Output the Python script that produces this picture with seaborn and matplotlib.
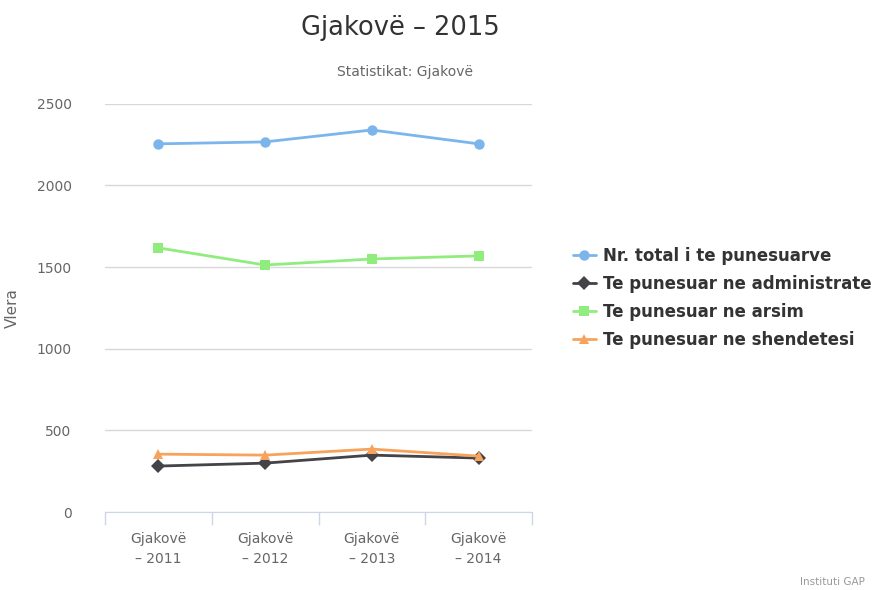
import pandas as pd
import matplotlib
matplotlib.use('Agg')
import matplotlib.pyplot as plt
import seaborn as sns

# datos
categorias = ['Gjakovë\n– 2011', 'Gjakovë\n– 2012', 'Gjakovë\n– 2013', 'Gjakovë\n– 2014']
series = ['Nr. total i te punesuarve', 'Te punesuar ne administrate',
          'Te punesuar ne arsim', 'Te punesuar ne shendetesi']
total = [2255, 2267, 2340, 2255]
administrate = [282, 300, 349, 331]
arsim = [1618, 1513, 1550, 1569]
shendetesi = [355, 349, 386, 343]

colores = ['#7cb5ec', '#434348', '#90ed7d', '#f7a35c']
marcadores = ['o', 'D', 's', '^']

valores = [total, administrate, arsim, shendetesi]
filas = []
for nombre, vals in zip(series, valores):
    for i, v in enumerate(vals):
        filas.append({'x': i, 'Serie': nombre, 'Vlera': v})
df = pd.DataFrame(filas)

sns.set_style('white')
plt.rcParams['font.family'] = ['DejaVu Sans']

fig = plt.figure(figsize=(8.75, 5.9), dpi=100)
ax = fig.add_axes([0.12, 0.132, 0.488, 0.692])

sns.lineplot(data=df, x='x', y='Vlera', hue='Serie', style='Serie',
             hue_order=series, style_order=series,
             palette=dict(zip(series, colores)),
             markers=dict(zip(series, marcadores)), dashes=False,
             markersize=7.5, markeredgewidth=0, linewidth=2, ax=ax)

ax.set_ylim(0, 2500)
ax.set_xlim(-0.5, 3.5)
ax.set_yticks([0, 500, 1000, 1500, 2000, 2500])
ax.set_xticks(range(4))
ax.set_xticklabels(categorias, linespacing=1.6)
ax.set_xticks([-0.5, 0.5, 1.5, 2.5, 3.5], minor=True)
ax.tick_params(axis='x', which='major', length=0, pad=14, labelsize=10, labelcolor='#666666')
ax.tick_params(axis='x', which='minor', bottom=True, length=9, color='#ccd6eb', width=1)
ax.tick_params(axis='y', length=0, pad=24, labelsize=10, labelcolor='#666666')
ax.yaxis.grid(True, color='#d8d8d8', linewidth=1)
ax.set_axisbelow(True)
for lado in ['top', 'right', 'left']:
    ax.spines[lado].set_visible(False)
ax.spines['bottom'].set_color('#ccd6eb')
ax.set_xlabel('')
ax.set_ylabel('Vlera', color='#666666', fontsize=11)
ax.yaxis.set_label_coords(-0.2, 0.5)

leg = ax.legend(loc='center left', bbox_to_anchor=(1.08, 0.525), frameon=False,
                prop={'weight': 'bold', 'size': 12}, handlelength=1.4,
                handletextpad=0.4, labelspacing=0.6, borderaxespad=0)
for t in leg.get_texts():
    t.set_color('#333333')

fig.text(400 / 875, 1 - 28 / 590, 'Gjakovë – 2015', ha='center', va='center',
         fontsize=18.5, color='#333333')
fig.text(405 / 875, 1 - 72 / 590, 'Statistikat: Gjakovë', ha='center', va='center',
         fontsize=10, color='#666666')
fig.text(865 / 875, 1 - 582 / 590, 'Instituti GAP', ha='right', va='center',
         fontsize=7.5, color='#999999')

fig.savefig('out.png', dpi=100, facecolor='white')
